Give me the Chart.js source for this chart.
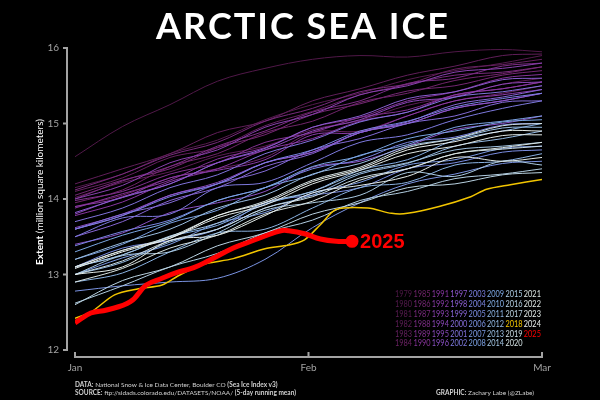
<!DOCTYPE html>
<html>
<head>
<meta charset="utf-8">
<script src="https://cdn.jsdelivr.net/npm/chart.js@4"></script>
<style>
  html, body { margin: 0; padding: 0; background: #000; }
  canvas { display: block; }
</style>
</head>
<body>
<canvas id="myChart" width="600" height="400"></canvas>
<script>
// days since Jan 1 for the background years
const days = [0, 6, 12, 18, 24, 30, 36, 42, 48, 54, 59];

// Extent (million km^2)
const y1979 = [14.56, 14.96, 15.25, 15.56, 15.73, 15.85, 15.90, 15.88, 15.95, 15.98, 15.95];
const y1980 = [14.15, 14.33, 14.60, 14.78, 15.05, 15.25, 15.40, 15.58, 15.70, 15.80, 15.90];
const y1981 = [14.02, 14.22, 14.36, 14.57, 14.70, 14.92, 15.04, 15.24, 15.36, 15.52, 15.60];
const y1982 = [14.20, 14.40, 14.60, 14.88, 15.03, 15.30, 15.46, 15.64, 15.76, 15.90, 15.92];
const y1983 = [14.10, 14.28, 14.55, 14.68, 14.97, 15.16, 15.38, 15.52, 15.72, 15.78, 15.85];
const y1984 = [13.90, 14.05, 14.28, 14.40, 14.55, 14.88, 14.90, 15.10, 15.30, 15.40, 15.50];
const y1985 = [13.95, 14.12, 14.43, 14.60, 14.88, 15.03, 15.28, 15.40, 15.57, 15.66, 15.75];
const y1986 = [14.05, 14.25, 14.40, 14.68, 14.85, 15.12, 15.26, 15.43, 15.50, 15.64, 15.70];
const y1987 = [14.12, 14.33, 14.58, 14.75, 15.03, 15.20, 15.42, 15.52, 15.64, 15.68, 15.75];
const y1988 = [14.00, 14.24, 14.43, 14.70, 14.90, 15.15, 15.30, 15.53, 15.60, 15.76, 15.80];
const y1989 = [13.98, 14.10, 14.33, 14.48, 14.75, 14.88, 15.08, 15.18, 15.38, 15.46, 15.55];
const y1990 = [13.88, 14.07, 14.25, 14.53, 14.68, 14.95, 15.08, 15.30, 15.42, 15.60, 15.65];
const y1991 = [13.78, 13.96, 14.23, 14.40, 14.65, 14.80, 15.03, 15.15, 15.38, 15.46, 15.55];
const y1992 = [13.90, 14.02, 14.28, 14.38, 14.52, 14.85, 14.88, 15.10, 15.30, 15.38, 15.45];
const y1993 = [14.00, 14.18, 14.48, 14.65, 14.95, 15.12, 15.38, 15.50, 15.68, 15.73, 15.80];
const y1994 = [13.80, 14.03, 14.20, 14.48, 14.65, 14.90, 15.05, 15.28, 15.35, 15.52, 15.55];
const y1995 = [13.62, 13.80, 14.05, 14.22, 14.48, 14.62, 14.88, 15.00, 15.20, 15.30, 15.40];
const y1996 = [13.40, 13.55, 13.82, 13.95, 14.10, 14.42, 14.50, 14.70, 14.92, 15.00, 15.10];
const y1997 = [13.60, 13.78, 14.05, 14.20, 14.48, 14.62, 14.88, 15.00, 15.20, 15.30, 15.40];
const y1998 = [13.82, 14.02, 14.20, 14.48, 14.67, 14.95, 15.10, 15.33, 15.42, 15.58, 15.60];
const y1999 = [13.50, 13.70, 13.98, 14.15, 14.43, 14.60, 14.88, 15.02, 15.25, 15.35, 15.45];
const y2000 = [13.60, 13.80, 13.95, 14.20, 14.37, 14.65, 14.80, 15.00, 15.10, 15.28, 15.30];
const y2001 = [13.70, 13.88, 14.15, 14.32, 14.60, 14.78, 15.02, 15.15, 15.35, 15.42, 15.50];
const y2002 = [13.50, 13.75, 13.80, 14.15, 14.22, 14.48, 14.75, 14.85, 15.05, 15.20, 15.30];
const y2003 = [13.60, 13.78, 14.03, 14.20, 14.48, 14.65, 14.90, 15.03, 15.22, 15.33, 15.40];
const y2004 = [13.38, 13.57, 13.72, 13.98, 14.15, 14.40, 14.52, 14.75, 14.82, 14.98, 15.00];
const y2005 = [13.10, 13.35, 13.45, 13.60, 13.95, 14.05, 14.15, 14.40, 14.48, 14.62, 14.65];
const y2006 = [12.78, 12.85, 12.90, 12.95, 13.20, 13.62, 13.95, 14.20, 14.33, 14.47, 14.50];
const y2007 = [13.00, 13.22, 13.40, 13.68, 13.82, 14.08, 14.22, 14.45, 14.52, 14.67, 14.70];
const y2008 = [13.20, 13.40, 13.68, 13.85, 14.15, 14.32, 14.58, 14.72, 14.95, 15.03, 15.10];
const y2009 = [13.30, 13.52, 13.70, 13.98, 14.15, 14.43, 14.57, 14.80, 14.90, 15.02, 15.05];
const y2010 = [13.10, 13.26, 13.50, 13.65, 13.93, 14.10, 14.38, 14.52, 14.78, 14.90, 15.00];
const y2011 = [12.90, 13.02, 13.30, 13.55, 13.60, 13.88, 14.15, 14.22, 14.45, 14.50, 14.60];
const y2012 = [13.00, 13.16, 13.43, 13.60, 13.88, 14.05, 14.33, 14.47, 14.70, 14.80, 14.90];
const y2013 = [13.20, 13.42, 13.60, 13.88, 14.05, 14.33, 14.47, 14.70, 14.80, 14.94, 14.95];
const y2014 = [13.10, 13.26, 13.51, 13.68, 13.95, 14.10, 14.35, 14.48, 14.65, 14.70, 14.75];
const y2015 = [13.00, 13.25, 13.30, 13.55, 13.85, 13.95, 14.05, 14.35, 14.30, 14.50, 14.45];
const y2016 = [12.62, 12.85, 13.10, 13.28, 13.55, 13.72, 13.98, 14.10, 14.27, 14.33, 14.40];
const y2017 = [12.60, 12.92, 13.10, 13.38, 13.55, 13.80, 13.95, 14.15, 14.20, 14.32, 14.35];
const y2019 = [13.00, 13.18, 13.45, 13.60, 13.88, 14.03, 14.28, 14.40, 14.60, 14.66, 14.70];
const y2020 = [13.10, 13.32, 13.50, 13.78, 13.97, 14.25, 14.42, 14.68, 14.80, 14.97, 15.00];
const y2021 = [12.90, 13.08, 13.35, 13.52, 13.80, 13.97, 14.25, 14.40, 14.60, 14.68, 14.75];
const y2022 = [13.10, 13.32, 13.48, 13.75, 13.92, 14.20, 14.38, 14.60, 14.70, 14.84, 14.85];
const y2023 = [13.00, 13.10, 13.45, 13.52, 13.78, 14.08, 14.18, 14.30, 14.55, 14.50, 14.55];
const y2024 = [13.08, 13.30, 13.48, 13.78, 13.95, 14.23, 14.40, 14.65, 14.76, 14.90, 14.90];

// highlighted years
const days2018 = [0, 2, 5, 8, 11, 13, 16, 20, 24, 27, 29, 31, 33, 37, 40, 42, 46, 50, 52, 55, 59];
const ext2018 = [12.42, 12.50, 12.73, 12.81, 12.86, 12.98, 13.13, 13.21, 13.34, 13.39, 13.46, 13.66, 13.86, 13.88, 13.81, 13.81, 13.90, 14.03, 14.13, 14.19, 14.26];
const days2025 = [0, 2, 4, 7, 9, 11, 13, 15, 17, 20, 22, 24, 26, 27, 29, 31, 33, 35];
const ext2025 = [12.36, 12.49, 12.53, 12.64, 12.86, 12.95, 13.03, 13.09, 13.19, 13.35, 13.43, 13.51, 13.58, 13.58, 13.54, 13.47, 13.44, 13.44];

const background = [
    [1979, y1979], [1980, y1980], [1981, y1981], [1982, y1982], [1983, y1983], [1984, y1984],
    [1985, y1985], [1986, y1986], [1987, y1987], [1988, y1988], [1989, y1989], [1990, y1990],
    [1991, y1991], [1992, y1992], [1993, y1993], [1994, y1994], [1995, y1995], [1996, y1996],
    [1997, y1997], [1998, y1998], [1999, y1999], [2000, y2000], [2001, y2001], [2002, y2002],
    [2003, y2003], [2004, y2004], [2005, y2005], [2006, y2006], [2007, y2007], [2008, y2008],
    [2009, y2009], [2010, y2010], [2011, y2011], [2012, y2012], [2013, y2013], [2014, y2014],
    [2015, y2015], [2016, y2016], [2017, y2017], [2019, y2019], [2020, y2020], [2021, y2021],
    [2022, y2022], [2023, y2023], [2024, y2024]
];

const tickDays = [0, 29.5, 59];
const tickNames = ['Jan', 'Feb', 'Mar'];
const yTicks = [12, 13, 14, 15, 16];

// colour ramp for the years
const ramp = [
    [1979, [80, 24, 72]], [1985, [112, 36, 106]], [1991, [136, 54, 160]],
    [1997, [140, 86, 204]], [2003, [122, 128, 226]], [2009, [122, 166, 226]],
    [2015, [170, 202, 226]], [2021, [218, 228, 226]], [2024, [232, 238, 236]]
];
function yearColor(yr) {
    if (yr === 2018) return '#f2c500';
    if (yr === 2025) return '#ff0000';
    for (let i = 0; i < ramp.length - 1; i++) {
        const [a, ca] = ramp[i], [b, cb] = ramp[i + 1];
        if (yr >= a && yr <= b) {
            const t = (yr - a) / (b - a);
            const c = ca.map((v, k) => Math.round(v + (cb[k] - v) * t));
            return `rgb(${c[0]},${c[1]},${c[2]})`;
        }
    }
    return 'rgb(232,238,236)';
}

const toPts = (xs, ys) => xs.map((d, i) => ({ x: d, y: ys[i] }));

const datasets = [];
datasets.push({
    label: '2025',
    data: toPts(days2025, ext2025),
    borderColor: '#ff0000',
    backgroundColor: '#ff0000',
    borderWidth: 5,
    tension: 0.4,
    pointRadius: c => c.dataIndex === days2025.length - 1 ? 4 : 0
});
datasets.push({
    label: '2018',
    data: toPts(days2018, ext2018),
    borderColor: '#f2c500',
    borderWidth: 1.5,
    tension: 0.3,
    pointRadius: 0
});
background.slice().reverse().forEach(([yr, vals]) => {
    datasets.push({
        label: String(yr),
        data: toPts(days, vals),
        borderColor: yearColor(yr),
        borderWidth: 1,
        tension: 0.35,
        pointRadius: 0
    });
});

const AXIS = '#a3a3a3';

// Axis brackets, titles, year key and credits
const decorations = {
    id: 'decorations',
    afterDraw(chart) {
        const ctx = chart.ctx;
        const xs = chart.scales.x, ys = chart.scales.y;
        ctx.save();

        // y axis bracket
        const ax = xs.left - 8;
        ctx.strokeStyle = AXIS;
        ctx.lineWidth = 2;
        ctx.beginPath();
        ctx.moveTo(ax, ys.getPixelForValue(16));
        ctx.lineTo(ax, ys.getPixelForValue(12));
        yTicks.forEach(v => {
            const p = ys.getPixelForValue(v);
            ctx.moveTo(ax + 1, p);
            ctx.lineTo(ax - 4, p);
        });
        ctx.stroke();

        // x axis bracket
        const ay = ys.bottom + 7;
        ctx.beginPath();
        ctx.moveTo(xs.getPixelForValue(0), ay);
        ctx.lineTo(xs.getPixelForValue(59), ay);
        tickDays.forEach(d => {
            const p = xs.getPixelForValue(d);
            ctx.moveTo(p, ay + 1);
            ctx.lineTo(p, ay - 5);
        });
        ctx.stroke();

        // title
        ctx.fillStyle = '#ffffff';
        ctx.textAlign = 'center';
        ctx.textBaseline = 'alphabetic';
        ctx.font = 'bold 36px Lato, "DejaVu Sans", sans-serif';
        ctx.letterSpacing = '2px';
        ctx.fillText('ARCTIC SEA ICE', 303, 39);
        ctx.letterSpacing = '0px';

        // y axis title
        ctx.save();
        ctx.translate(40, 192);
        ctx.rotate(-Math.PI / 2);
        ctx.textBaseline = 'middle';
        ctx.font = 'bold 10px Lato, sans-serif';
        const b = 'Extent';
        const r = ' (million square kilometers)';
        const wb = ctx.measureText(b).width;
        ctx.font = '10px Lato, sans-serif';
        const wr = ctx.measureText(r).width;
        ctx.textAlign = 'left';
        ctx.font = 'bold 10px Lato, sans-serif';
        ctx.fillText(b, -(wb + wr) / 2, 0);
        ctx.font = '10px Lato, sans-serif';
        ctx.fillText(r, -(wb + wr) / 2 + wb, 0);
        ctx.restore();

        // 2025 label at the last point
        const meta = chart.getDatasetMeta(0);
        const last = meta.data[meta.data.length - 1];
        ctx.fillStyle = '#ff0000';
        ctx.textAlign = 'left';
        ctx.textBaseline = 'middle';
        ctx.font = 'bold 20px "Liberation Sans", Arial, sans-serif';
        ctx.fillText('2025', last.x + 8, last.y + 1);

        // year key: six rows per column, squeezed horizontally
        const allYears = [];
        for (let yr = 1979; yr <= 2025; yr++) allYears.push(yr);
        ctx.font = '9px Lato, sans-serif';
        ctx.textAlign = 'left';
        allYears.forEach((yr, i) => {
            const col = Math.floor(i / 6), row = i % 6;
            ctx.save();
            ctx.translate(395 + col * 18.4, 294 + row * 9.9);
            ctx.scale(0.82, 1);
            ctx.fillStyle = yearColor(yr);
            ctx.fillText(String(yr), 0, 0);
            ctx.restore();
        });

        // credits
        const line = (x, y, parts) => {
            let cx = x;
            parts.forEach(([txt, bold]) => {
                ctx.font = (bold ? 'bold ' : '') + '6.5px Lato, sans-serif';
                ctx.fillText(txt, cx, y);
                cx += ctx.measureText(txt).width;
            });
        };
        ctx.fillStyle = '#d0d0d0';
        line(75, 385, [['DATA:', true], [' National Snow & Ice Data Center, Boulder CO ', false], ['(Sea Ice Index v3)', true]]);
        line(75, 393, [['SOURCE:', true], [' ftp://sidads.colorado.edu/DATASETS/NOAA/ ', false], ['(5-day running mean)', true]]);
        line(436, 393, [['GRAPHIC:', true], [' Zachary Labe (@ZLabe)', false]]);

        ctx.restore();
    }
};

document.addEventListener('DOMContentLoaded', () => {
    const ctx = document.getElementById('myChart').getContext('2d');

    new Chart(ctx, {
        type: 'line',
        data: { datasets: datasets },
        options: {
            responsive: false,
            animation: false,
            layout: { padding: { top: 48, right: 58, left: 0, bottom: 0 } },
            plugins: {
                legend: { display: false },
                tooltip: { enabled: false }
            },
            scales: {
                x: {
                    type: 'linear',
                    min: 0,
                    max: 59,
                    grid: { display: false, drawTicks: false },
                    border: { display: false },
                    afterFit: s => { s.height = 50; },
                    afterBuildTicks: s => { s.ticks = tickDays.map(v => ({ value: v })); },
                    ticks: {
                        color: AXIS,
                        padding: 12,
                        autoSkip: false,
                        maxRotation: 0,
                        font: { family: 'Lato', size: 10 },
                        callback: v => tickNames[tickDays.indexOf(v)]
                    }
                },
                y: {
                    min: 12,
                    max: 16,
                    grid: { display: false, drawTicks: false },
                    border: { display: false },
                    afterFit: s => { s.width = 75; },
                    afterBuildTicks: s => { s.ticks = yTicks.map(v => ({ value: v })); },
                    ticks: {
                        color: AXIS,
                        padding: 16,
                        font: { family: 'Lato', size: 10 }
                    }
                }
            }
        },
        plugins: [decorations]
    });
});
</script>
</body>
</html>
